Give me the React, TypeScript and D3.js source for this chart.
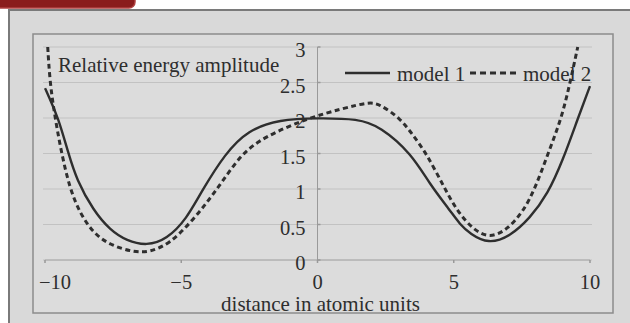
import React from 'react';
import * as d3 from 'd3';

// --- data ---
const model1X = [-10, -9.88, -9.51, -9.14, -8.84, -8.23, -7.61, -7.0, -6.27, -5.53, -4.8, -4.25, -3.39, -2.55, -1.4, 0, 1.5, 2.3, 3.45, 4.13, 4.86, 5.23, 5.6, 6.27, 7.06, 7.8, 8.45, 9.0, 9.56, 10];
const model1Y = [2.42, 2.32, 2.0, 1.5, 1.13, 0.7, 0.42, 0.27, 0.2, 0.29, 0.58, 0.97, 1.5, 1.83, 1.98, 2.0, 1.99, 1.88, 1.5, 1.06, 0.7, 0.5, 0.37, 0.225, 0.33, 0.59, 0.93, 1.4, 2.0, 2.45];

const model2X = [-9.9, -9.82, -9.63, -9.39, -9.1, -8.72, -8.23, -7.61, -6.76, -6.15, -5.41, -4.68, -4.07, -3.5, -2.78, -1.93, -0.35, 0.9, 1.93, 2.29, 3.03, 3.5, 4.0, 4.68, 5.11, 5.72, 6.33, 6.94, 7.55, 8.0, 8.46, 8.96, 9.27, 9.55];
const model2Y = [3.0, 2.5, 2.0, 1.5, 1.02, 0.66, 0.38, 0.21, 0.11, 0.11, 0.235, 0.52, 0.8, 1.1, 1.5, 1.74, 2.0, 2.13, 2.23, 2.19, 2.0, 1.76, 1.5, 1.0, 0.7, 0.42, 0.31, 0.42, 0.68, 1.02, 1.5, 2.0, 2.5, 3.0];

const xTicks = [-10, -5, 0, 5, 10];
const yTicks = [0, 0.5, 1, 1.5, 2, 2.5, 3];
const seriesNames = ['model 1', 'model 2'];
const yTitle = 'Relative energy amplitude';
const xTitle = 'distance in atomic units';

const App: React.FC = () => {
  const width = 630;
  const height = 323;
  const font = '"Liberation Serif", "Times New Roman", serif';
  const ink = '#2e2e2e';

  // plot frame (inner box) and scales
  const frame = { left: 33, top: 34, right: 613, bottom: 313 };
  const x = d3.scaleLinear().domain([-10, 10]).range([45, 590]);
  const y = d3.scaleLinear().domain([0, 3]).range([260, 47]);

  // basis spline smooths out small reading errors between the sampled points
  const line = d3.line<[number, number]>()
    .x(d => x(d[0]))
    .y(d => y(d[1]))
    .curve(d3.curveBasis);

  const m1: [number, number][] = model1X.map((v, i) => [v, model1Y[i]]);
  const m2: [number, number][] = model2X.map((v, i) => [v, model2Y[i]]);

  const fmt = (v: number) => (v < 0 ? '\u2212' + Math.abs(v) : String(v));

  return (
    <div style={{ position: 'fixed', left: 0, top: 0 }}>
      <svg width={width} height={height} style={{ display: 'block' }}>
        <rect x={0} y={0} width={width} height={height} fill="#ffffff" />
        {/* red badge at top-left */}
        <rect x={-8} y={-12} width={143} height={20} rx={6} fill="#8a1c1c" stroke="#b04040" strokeWidth={1.5} />
        {/* outer photo panel */}
        <rect x={9} y={10} width={width} height={height} fill="#d9d9d9" stroke="#7a7a7a" strokeWidth={2} />
        {/* inner plot frame */}
        <rect x={frame.left} y={frame.top} width={frame.right - frame.left} height={frame.bottom - frame.top}
          fill="#dcdcdc" stroke="#8c8c8c" strokeWidth={1.5} />

        {/* horizontal gridlines */}
        {yTicks.map(t => (
          <line key={'g' + t} x1={x(-10) - 2} x2={x(10) + 2} y1={y(t)} y2={y(t)} stroke="#c2c2c2" strokeWidth={1} />
        ))}

        {/* axes */}
        <line x1={x(-10)} x2={x(10)} y1={y(0)} y2={y(0)} stroke="#a8a8a8" strokeWidth={1} />
        <line x1={x(0)} x2={x(0)} y1={y(0)} y2={y(3)} stroke="#9a9a9a" strokeWidth={1} />
        {xTicks.map(t => (
          <line key={'xt' + t} x1={x(t)} x2={x(t)} y1={y(0)} y2={y(0) + 3} stroke="#999" strokeWidth={1.5} />
        ))}
        {yTicks.map(t => (
          <line key={'yt' + t} x1={x(0)} x2={x(0) + 3} y1={y(t)} y2={y(t)} stroke="#999" strokeWidth={1.5} />
        ))}

        {/* tick labels */}
        {yTicks.map(t => (
          <text key={'yl' + t} x={x(0) - 12} y={y(t) + 10} textAnchor="end" fontFamily={font} fontSize={20.5} fill={ink}>
            {fmt(t)}
          </text>
        ))}
        {xTicks.map(t => {
          const edge = t === xTicks[0];
          return (
            <text key={'xl' + t} x={edge ? frame.left + 6 : x(t)} y={289} textAnchor={edge ? 'start' : 'middle'}
              fontFamily={font} fontSize={20.5} fill={ink}>
              {fmt(t)}
            </text>
          );
        })}

        {/* titles */}
        <text x={58} y={72} fontFamily={font} fontSize={21} fill={ink}>{yTitle}</text>
        <text x={x(0) + 3} y={311} textAnchor="middle" fontFamily={font} fontSize={21} fill={ink}>{xTitle}</text>

        {/* series */}
        <path d={line(m1) || ''} fill="none" stroke={ink} strokeWidth={2.4} />
        <path d={line(m2) || ''} fill="none" stroke={ink} strokeWidth={3} strokeDasharray="5,3.5" />

        {/* legend */}
        <line x1={345} x2={390} y1={73} y2={73} stroke={ink} strokeWidth={2.4} />
        <text x={397} y={81} fontFamily={font} fontSize={21} fill={ink}>{seriesNames[0]}</text>
        <line x1={470} x2={518} y1={73} y2={73} stroke={ink} strokeWidth={3} strokeDasharray="6,4" />
        <text x={523} y={81} fontFamily={font} fontSize={21} fill={ink}>{seriesNames[1]}</text>
      </svg>
    </div>
  );
};

export default App;
